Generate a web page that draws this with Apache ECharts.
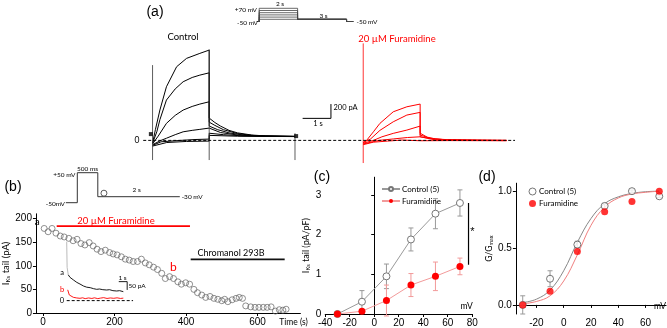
<!DOCTYPE html>
<html><head><meta charset="utf-8">
<script src="https://cdn.jsdelivr.net/npm/echarts@6/dist/echarts.min.js"></script>
<style>html,body{margin:0;padding:0;background:#fff}#c{width:667px;height:328px}</style>
</head><body><div id="c"></div>
<script>
// ===== Panel (a): current traces [time s, current pA] =====
const aControlTraces = [
  [[0,-40],[0.1,150],[0.26,425],[0.49,750],[0.85,1030],[1.2,1147],[1.67,1217],[2,1263],[2,312],[2.2,250],[2.4,200],[2.7,140],[3,105],[3.5,75],[4,62],[4.5,57],[5.03,55]],
  [[0,-40],[0.15,120],[0.26,290],[0.49,564],[0.8,720],[1.08,820],[1.4,880],[1.67,913],[2,945],[2,255],[2.2,210],[2.5,150],[3,95],[3.5,70],[4,60],[5.03,55]],
  [[0,-50],[0.2,60],[0.49,238],[0.8,350],[1.08,424],[1.4,475],[1.67,508],[2,540],[2,200],[2.3,150],[2.7,105],[3.2,75],[4,60],[5.03,55]],
  [[0,-60],[0.3,0],[0.49,30],[0.8,80],[1.08,120],[1.4,140],[1.67,154],[2,172],[2,145],[2.4,110],[3,75],[3.6,62],[5.03,55]],
  [[0,-70],[0.3,-20],[1,0],[1.5,12],[2,18],[2,100],[2.5,80],[3.2,62],[5.03,55]],
  [[0,-80],[0.5,-30],[1.2,-15],[2,-10],[2,70],[3,58],[5.03,53]]
];
const aFuraTraces = [
  [[7.44,-30],[7.56,0],[7.8,120],[8.03,238],[8.5,400],[8.98,470],[9.45,508],[9.45,100],[9.7,45],[10,20],[10.5,8],[11.5,3],[12.5,0]],
  [[7.44,-30],[7.7,20],[8.03,140],[8.5,260],[8.98,354],[9.45,392],[9.45,75],[9.8,30],[10.3,10],[11.5,2],[12.5,0]],
  [[7.44,-40],[7.8,0],[8.1,50],[8.5,98],[8.98,144],[9.45,200],[9.45,50],[10,15],[11,3],[12.5,0]],
  [[7.44,-50],[8,0],[8.5,20],[9,40],[9.45,50],[9.45,30],[10,5],[12.5,-3]],
  [[7.44,-60],[7.8,-25],[8.3,-10],[8.8,5],[9.45,-5],[9.45,10],[10.5,-3],[12.5,-5]]
];
const aControlSpikes = [[0,1053,-275],[2,1273,-275],[5.03,100,-275]]; // [t, top, bottom]
const aFuraSpikes = [[7.44,1357,-317]];
const aZeroLine = [[-0.33,0],[12.8,0]];
const aScaleBar = [[5.3,308],[6.3,308],[6.3,508]];   // 1 s, 200 pA
const aMarkers = [[-0.06,88],[5.07,60]];

// Protocol (a): mV levels and times (s)
const protoALevels = [-30,-10,10,30,50,70];
const protoATimes = [-0.12,0,2,4.55,4.9];
const protoAHold = -50, protoATail = -30;

// ===== Panel (b) =====
const protoB = [[-0.28,-50],[0,-50],[0,50],[0.5,50],[0.5,-30],[2.5,-30]];
const protoBCircle = [[0.65,-30]];
const bTime = [3,14,25,36,48,59,72,84,95,106,117,129,140,151,162,174,186,196,207,219,230,241,252,264,275,286,297,309,320,332,342,354,365,377,387,399,410,422,432,444,455,467,478,489,500,508,517,529,540,549,558,567,581,593,604,616,627,638,650,661,671,680];
const bValue = [179,172,179,169,163,161,158,153,156,147,144,149,142,135,130,133,128,125,123,119,114,112,109,109,114,106,102,97,92,84,73,77,73,66,61,64,61,50,43,38,33,35,31,29,26,29,24,28,31,33,31,15,13,12,12,12,12,13,4,7,6,8];
const bFuraBar = [[38,184],[411,184]];
const bChromBar = [[413,113.6],[676,113.6]];
const bTicksX = [0,200,400,600];
const bTicksY = [0,50,100,150,200];
const bInsetA = [[0.19,155],[0.4,140],[0.79,125],[1.2,110],[1.58,100],[2.0,88],[2.38,81],[2.8,78],[3.2,72],[3.57,68],[3.9,70],[4.3,66],[4.76,64],[5.1,66],[5.5,60],[5.95,58],[6.3,60],[6.74,54]];
const bInsetASpike = [[0,355],[0.05,200],[0.19,155]];
const bInsetB = [[0.12,65],[0.31,34],[0.79,20],[1.2,16],[1.58,14],[1.9,17],[2.2,12],[2.6,16],[3.0,13],[3.3,17],[3.7,12],[4.0,15],[4.4,18],[4.8,13],[5.2,16],[5.6,14],[6.0,17],[6.4,13],[6.74,15]];
const bInsetZero = [[0,0],[7.9,0]];
const bInsetScale = [[6.2,114.5],[7.2,114.5],[7.2,64.5]];  // 1 s, 50 pA

// ===== Panel (c) =====
const cVoltage = [-30,-10,10,30,50,70];
const cControl = [0,0.31,0.95,1.88,2.53,2.8];
const cControlErr = [0,0.28,0.31,0.29,0.38,0.33];
const cFura = [0,0.07,0.34,0.73,0.95,1.2];
const cFuraErr = [0,0.05,0.39,0.29,0.36,0.21];
const cSig = [[77,2.8],[77,1.24]];
const cTicksY = [0,1,2,3];

// ===== Panel (d) =====
const dVoltage = [-30,-10,10,30,50,70];
const dControl = [0,0.23,0.53,0.87,1.0,0.955];
const dControlErr = [0.08,0.07,0.03,0.02,0.01,0.01];
const dFura = [0,0.12,0.47,0.82,0.91,1.0];
const dFitV = [-30,-20,-10,0,10,20,30,40,50,60,70];
const dFitControl = [0.02,0.05,0.13,0.3,0.55,0.76,0.89,0.95,0.98,0.995,1.0];
const dFitFura = [0.01,0.03,0.08,0.21,0.44,0.7,0.86,0.94,0.975,0.99,1.0];
const dTicksX = [-20,0,20,40,60];
const dTicksY = [0,0.5,1.0];

// ===== styles =====
const FONT = 'Liberation Sans, Arial, sans-serif';
const LFONT = 'Lato, Open Sans, sans-serif';
const RED = '#ff0000', BLACK = '#000';

function hiddenAxis(g, min, max){ return {gridIndex:g, type:'value', min, max, show:false}; }
function visAxis(g, min, max, opts){
  opts = opts || {};
  const ax = {
    gridIndex:g, type:'value', min, max,
    axisLine:{show:true, onZero: opts.onZero !== undefined ? opts.onZero : true, lineStyle:{color:BLACK, width:1}},
    axisTick:{show:true, length:3, lineStyle:{color:BLACK, width:1}},
    axisLabel:{color:BLACK, fontSize:10, fontFamily:FONT, margin:4},
    splitLine:{show:false}
  };
  if (opts.interval) ax.interval = opts.interval;
  if (opts.values){ ax.axisTick.customValues = opts.values; ax.axisLabel.customValues = opts.values; }
  if (opts.formatter) ax.axisLabel.formatter = opts.formatter;
  if (opts.name){ Object.assign(ax, opts.name); }
  return ax;
}
function lineS(xi, data, color, width, extra){
  return Object.assign({type:'line', xAxisIndex:xi, yAxisIndex:xi, data, showSymbol:false, symbol:'none',
    lineStyle:{color, width: width || 1}, silent:true, z:2}, extra || {});
}
function errSeries(xi, xs, ys, errs, color){
  return {type:'custom', xAxisIndex:xi, yAxisIndex:xi, silent:true, z:1,
    data: xs.map((x,i)=>[x, ys[i]-errs[i], ys[i]+errs[i]]).filter(d=>d[2]>d[1]),
    encode:{x:0, y:[1,2]},
    renderItem:(params, api)=>{
      const x=api.value(0), p1=api.coord([x, api.value(1)]), p2=api.coord([x, api.value(2)]), w=2.5;
      const st={stroke:color, lineWidth:1};
      return {type:'group', children:[
        {type:'line', shape:{x1:p1[0],y1:p1[1],x2:p2[0],y2:p2[1]}, style:st},
        {type:'line', shape:{x1:p1[0]-w,y1:p1[1],x2:p1[0]+w,y2:p1[1]}, style:st},
        {type:'line', shape:{x1:p2[0]-w,y1:p2[1],x2:p2[0]+w,y2:p2[1]}, style:st}]};
    }};
}

const series = [];
// Panel a
aControlTraces.forEach(d=>series.push(lineS(0, d, BLACK, 1)));
aFuraTraces.forEach(d=>series.push(lineS(0, d, RED, 1)));
aControlSpikes.forEach(s=>series.push(lineS(0, [[s[0],s[1]],[s[0],s[2]]], '#333', 0.8)));
aFuraSpikes.forEach(s=>series.push(lineS(0, [[s[0],s[1]],[s[0],s[2]]], RED, 0.8)));
series.push(lineS(0, aZeroLine, BLACK, 1, {lineStyle:{color:BLACK, width:1, type:[3,2]}, z:3}));
series.push(lineS(0, aScaleBar, BLACK, 1));
series.push({type:'scatter', xAxisIndex:0, yAxisIndex:0, data:aMarkers, symbol:'rect', symbolSize:4, itemStyle:{color:BLACK}, silent:true});
// Protocol a
protoALevels.forEach(v=>{
  const t = protoATimes;
  series.push(lineS(1, [[t[0],protoAHold],[t[1],protoAHold],[t[1],v],[t[2],v],[t[2],protoATail],[t[3],protoATail],[t[3],protoAHold],[t[4],protoAHold]], '#444', 0.8));
});
// Protocol b
series.push(lineS(2, protoB, '#333', 1));
series.push({type:'scatter', xAxisIndex:2, yAxisIndex:2, data:protoBCircle, symbol:'circle', symbolSize:6, symbolOffset:[0,-3.5], itemStyle:{color:'#fff', borderColor:'#333', borderWidth:1}, silent:true});
// Panel b main
series.push({type:'scatter', xAxisIndex:3, yAxisIndex:3, data:bTime.map((t,i)=>[t,bValue[i]]), symbol:'circle', symbolSize:6,
  itemStyle:{color:'rgba(255,255,255,0)', borderColor:'#666', borderWidth:0.9}, silent:true, z:3});
series.push(lineS(3, bFuraBar, RED, 1.6));
series.push(lineS(3, bChromBar, '#111', 1.6));
// inset
series.push(lineS(4, bInsetASpike, '#aaa', 0.8));
series.push(lineS(4, bInsetA, BLACK, 0.9));
series.push(lineS(4, bInsetB, RED, 0.9));
series.push(lineS(4, bInsetZero, BLACK, 1, {lineStyle:{color:BLACK, width:1, type:[3,2]}}));
series.push(lineS(4, bInsetScale, BLACK, 0.9));
// Panel c
series.push(errSeries(5, cVoltage, cControl, cControlErr, '#999'));
series.push(errSeries(5, cVoltage, cFura, cFuraErr, '#f29a9a'));
series.push({type:'line', name:'Control (5)', xAxisIndex:5, yAxisIndex:5, data:cVoltage.map((v,i)=>[v,cControl[i]]),
  symbol:'circle', symbolSize:7, showSymbol:true, lineStyle:{color:'#999', width:1},
  itemStyle:{color:'#fff', borderColor:'#777', borderWidth:1}, silent:true, z:4});
series.push({type:'line', name:'Furamidine', xAxisIndex:5, yAxisIndex:5, data:cVoltage.map((v,i)=>[v,cFura[i]]),
  symbol:'circle', symbolSize:7, showSymbol:true, lineStyle:{color:'#f29a9a', width:1},
  itemStyle:{color:RED, borderColor:RED, borderWidth:0}, silent:true, z:4});
series.push(lineS(5, cSig, BLACK, 1.2));
// Panel d
series.push(lineS(6, dFitV.map((v,i)=>[v,dFitControl[i]]), '#888', 1, {smooth:0.4}));
series.push(lineS(6, dFitV.map((v,i)=>[v,dFitFura[i]]), '#f08080', 1, {smooth:0.4}));
series.push(errSeries(6, dVoltage, dControl, dControlErr, '#999'));
series.push({type:'scatter', name:'dControl', xAxisIndex:6, yAxisIndex:6, data:dVoltage.map((v,i)=>[v,dControl[i]]),
  symbol:'circle', symbolSize:7, itemStyle:{color:'#fff', borderColor:'#555', borderWidth:1}, silent:true, z:4});
series.push({type:'scatter', name:'dFuramidine', xAxisIndex:6, yAxisIndex:6, data:dVoltage.map((v,i)=>[v,dFura[i]]),
  symbol:'circle', symbolSize:7, itemStyle:{color:RED}, silent:true, z:5});

const subRich = (fs)=>({rich:{n:{fontSize:fs, fontFamily:LFONT, color:BLACK}, s:{fontSize:fs*0.65, fontFamily:LFONT, color:BLACK, padding:[fs*0.5,0,0,0]}}});

const option = {
  animation:false,
  backgroundColor:'#fff',
  grid:[
    {left:135, top:40.3, width:380, height:125.1},
    {left:240, top:5, width:120, height:19.8},
    {left:56.8, top:169.7, width:133.25, height:39},
    {left:26.6, top:213.8, width:273.8, height:99.2},
    {left:66.7, top:240.9, width:67.2, height:64.7},
    {left:325.2, top:177.2, width:147, height:137.3},
    {left:515.9, top:183.2, width:150.2, height:139.8}
  ],
  xAxis:[
    hiddenAxis(0,-0.62,12.8),
    hiddenAxis(1,-1,5.25),
    hiddenAxis(2,-0.5,2.75),
    visAxis(3,-20,720,{values:bTicksX}),
    hiddenAxis(4,0,8),
    visAxis(5,-40,80,{interval:20}),
    visAxis(6,-35,75,{values:dTicksX})
  ],
  yAxis:[
    hiddenAxis(0,-350,1400),
    hiddenAxis(1,-80,100),
    hiddenAxis(2,-70,60),
    visAxis(3,0,210,{values:bTicksY, onZero:false, name:{name:'{n|I}{s|Ks}{n| tail (pA)}', nameLocation:'middle', nameGap:17, nameRotate:90, nameTextStyle:subRich(9.5)}}),
    hiddenAxis(4,-30,360),
    visAxis(5,0,3.45,{values:cTicksY, name:{name:'{n|I}{s|Ks}{n| tail (pA/pF)}', nameLocation:'middle', nameGap:14, nameRotate:90, nameTextStyle:subRich(9)}}),
    visAxis(6,-0.08,1.07,{values:dTicksY, onZero:false, formatter:v=>v.toFixed(1), name:{name:'{n|G/G}{s|max}', nameLocation:'middle', nameGap:20, nameRotate:90, nameTextStyle:subRich(8.5)}})
  ],
  legend:[
    {data:['Control (5)','Furamidine'], left:376, top:180, orient:'vertical', itemWidth:18, itemHeight:5, itemGap:4,
      selectedMode:false, textStyle:{fontSize:8, fontFamily:LFONT, color:BLACK, padding:[0,0,0,-3]}},
    {data:[{name:'dControl', icon:'circle', itemStyle:{color:'#fff', borderColor:'#555', borderWidth:1}},
           {name:'dFuramidine', icon:'circle', itemStyle:{color:RED}}],
      formatter:n=>n==='dControl'?'Control (5)':'Furamidine',
      left:523.5, top:182.5, orient:'vertical', itemWidth:7, itemHeight:7, itemGap:4,
      selectedMode:false, textStyle:{fontSize:8, fontFamily:LFONT, color:BLACK, padding:[0,0,0,-2]}}
  ],
  series,
  graphic: []
};

function txt(x, y, text, size, opts){
  opts = opts || {};
  return {type:'text', x, y, silent:true, z:100, style:{text, fontSize:size, fontFamily:opts.font||LFONT, fill:opts.color||BLACK,
    align:opts.align||'center', verticalAlign:'middle', fontWeight:opts.weight||'normal'}};
}
option.graphic = [
  txt(155,12,'(a)',14,{font:FONT}), txt(13,187,'(b)',14,{font:FONT}), txt(322,177,'(c)',14,{font:FONT}), txt(487,177,'(d)',14,{font:FONT}),
  txt(183,37,'Control',9.5), txt(397,39.3,'20 µM Furamidine',9.5,{color:RED}),
  txt(333.5,108,'200 pA',7.5,{align:'left'}), txt(318,123.5,'1 s',7.5), txt(139.5,140.3,'0',8.5,{align:'right'}),
  txt(257,10,'+70 mV',6.5,{align:'right'}), txt(258,23,'-50 mV',6.5,{align:'right'}), txt(280,3.5,'2 s',6.5),
  txt(323.5,15.5,'3 s',6.5), txt(356.5,22,'-50 mV',6.5,{align:'left'}),
  txt(75.5,175,'+50 mV',6.5,{align:'right'}), txt(87.5,168.5,'500 ms',6.5), txt(65,203.5,'-50mV',6.5,{align:'right'}),
  txt(136.7,190,'2 s',6.5), txt(181.7,196.5,'-30 mV',6.5,{align:'left'}),
  txt(37.3,221.7,'a',10), txt(116,221,'20 µM Furamidine',9.5,{color:RED}), txt(173.3,266.7,'b',12,{color:RED}),
  txt(231,253.3,'Chromanol 293B',9),
  txt(62,272.5,'a',7.5), txt(62,290,'b',7.5,{color:RED}), txt(62,300.7,'0',7.5),
  txt(122.5,277.5,'1 s',6.5), txt(128.5,285.5,'50 pA',6.5,{align:'left'}),
  txt(293.5,322,'Time (s)',8.5),
  txt(466.7,306.5,'mV',8.5), txt(472.5,232,'*',11,{font:FONT}),
  txt(660,306,'mV',8.5)
];

const chart = echarts.init(document.getElementById('c'), null, {renderer:'canvas'});
chart.setOption(option);
</script></body></html>
